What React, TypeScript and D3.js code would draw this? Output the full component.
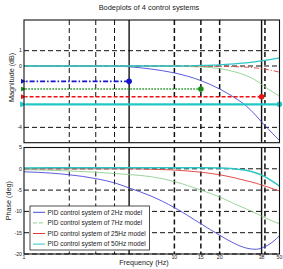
import React from "react";
import * as d3 from "d3";

const freqs = [1, 1.5, 2, 3, 4, 5, 7, 10, 15, 20, 25, 30, 35, 38, 42, 46, 50];

const mag2Hz = [0, 0, 0, 0, -0.01, -0.05, -0.2, -0.45, -0.95, -1.5, -2.05, -2.6, -3.25, -3.65, -4.1, -4.5, -4.85];
const mag7Hz = [0, 0, 0, 0, 0, 0, 0, -0.02, -0.06, -0.17, -0.37, -0.62, -0.95, -1.2, -1.5, -1.75, -1.95];
const mag25Hz = [0, 0, 0, 0, 0, 0, 0, 0, -0.01, -0.02, -0.04, -0.07, -0.13, -0.17, -0.24, -0.32, -0.4];
const mag50Hz = [0, 0, 0, 0, 0, 0, 0, 0, 0.04, 0.08, 0.14, 0.2, 0.28, 0.33, 0.4, 0.47, 0.53];

const ph2Hz = [-0.7, -1.0, -1.4, -2.3, -3.3, -4.5, -6.4, -9.1, -12.9, -15.6, -17.5, -18.6, -18.9, -18.6, -17.9, -16.9, -15.7];
const ph7Hz = [-0.2, -0.35, -0.5, -0.8, -1.1, -1.35, -1.85, -3.0, -5.0, -6.6, -8.2, -9.4, -10.5, -11.1, -11.8, -12.4, -12.9];
const ph25Hz = [0, 0, 0, 0, 0, 0, -0.1, -0.3, -0.8, -1.4, -2.1, -2.8, -3.4, -3.8, -4.3, -4.8, -5.2];
const ph50Hz = [0.2, 0.22, 0.24, 0.25, 0.25, 0.25, 0.25, 0.25, 0.25, 0.2, 0.0, -0.35, -1.0, -1.5, -2.3, -3.2, -4.1];

const markerFreqs = [5, 15, 38, 50];
const markerMags = [-1, -1.5, -2, -2.5];

const seriesNames = [
  "PID control system of 2Hz model",
  "PID control system of 7Hz model",
  "PID control system of 25Hz model",
  "PID control system of 50Hz model",
];

const gridFreqs = [2, 3, 4, 5, 10, 15, 20, 38, 40];
const magTicks = [1, 0, -4];
const phaseTicks = [5, 0, -5, -10, -15, -20];
const freqTickLabels = [1, 10, 15, 20, 38, 50];

const W = 283;
const H = 269;
const FONT = "'Liberation Sans', Arial, Helvetica, sans-serif";

export default function App() {
  const x = d3.scaleLog().domain([1, 50]).range([24, 279.5]);
  const yM = d3.scaleLinear().domain([-5, 3]).range([142.7, 20]);
  const yP = d3.scaleLinear().domain([-20, 5]).range([254, 147.5]);

  const curveColors = ["#4848d8", "#8ed08e", "#e03a3a", "#2cc6c6"];
  const markColors = ["#1515d0", "#189018", "#ee1111", "#22c8c8"];
  const magDash = ["", "", "5,2,1,2", ""];
  const refDash = ["5,2,1.5,2", "1.5,1.5", "4,2", ""];
  const refWidth = [1.6, 1.6, 1.6, 2.4];

  const magSeries = [mag2Hz, mag7Hz, mag25Hz, mag50Hz];
  const phSeries = [ph2Hz, ph7Hz, ph25Hz, ph50Hz];

  const lineM = d3
    .line<number>()
    .x((_, i) => x(freqs[i]))
    .y((d) => yM(d))
    .curve(d3.curveMonotoneX);
  const lineP = d3
    .line<number>()
    .x((_, i) => x(freqs[i]))
    .y((d) => yP(d))
    .curve(d3.curveMonotoneX);

  const vStyle = (f: number) => {
    if (f === 5 || f === 38) return { w: 1.4, dash: "" };
    if (f === 2 || f === 3 || f === 4) return { w: 1, dash: "5,3" };
    return { w: 1.5, dash: "5,3" };
  };

  const panels = [
    { y: yM, top: 20, bottom: 142.7, ticks: magTicks },
    { y: yP, top: 147.5, bottom: 254, ticks: phaseTicks },
  ];

  return (
    <svg
      width={W}
      height={H}
      style={{ position: "absolute", left: 0, top: 0, background: "#fff" }}
      fontFamily={FONT}
    >
      <defs>
        {markColors.map((c, i) => (
          <marker
            key={i}
            id={`arr${i}`}
            viewBox="0 0 10 10"
            refX="1"
            refY="5"
            markerWidth={i === 3 ? 6 : 5}
            markerHeight={i === 3 ? 6 : 5}
            orient="auto"
            markerUnits="userSpaceOnUse"
          >
            <path d="M0,5 L10,0 L10,10 Z" fill={c} />
          </marker>
        ))}
      </defs>
      <rect x={0} y={0} width={W} height={H} fill="#fff" />
      <text x={149} y={10} fontSize={7.4} textAnchor="middle" fill="#222">
        Bodeplots of 4 control systems
      </text>

      {panels.map((p, pi) => (
        <g key={pi}>
          {gridFreqs.map((f) => {
            const s = vStyle(f);
            return (
              <line
                key={f}
                x1={x(f)}
                x2={x(f)}
                y1={p.top}
                y2={p.bottom}
                stroke="#111"
                strokeWidth={s.w}
                strokeDasharray={s.dash}
              />
            );
          })}
          {p.ticks.map((t) => (
            <g key={t}>
              <line
                x1={x(1)}
                x2={x(50)}
                y1={p.y(t)}
                y2={p.y(t)}
                stroke="#111"
                strokeWidth={1}
                strokeDasharray="5,3"
              />
              <text
                x={22}
                y={p.y(t) + 1.8}
                fontSize={5.2}
                textAnchor="end"
                fill="#222"
              >
                {t}
              </text>
            </g>
          ))}
        </g>
      ))}

      {magSeries.map((s, i) => (
        <path
          key={i}
          d={lineM(s) || ""}
          fill="none"
          stroke={curveColors[i]}
          strokeWidth={i === 3 ? 1.3 : 0.9}
          strokeDasharray={magDash[i]}
        />
      ))}

      {markerFreqs.map((f, i) => (
        <g key={i}>
          <line
            x1={x(f)}
            x2={x(1) + 1.5}
            y1={yM(markerMags[i])}
            y2={yM(markerMags[i])}
            stroke={markColors[i]}
            strokeWidth={refWidth[i]}
            strokeDasharray={refDash[i]}
            markerEnd={`url(#arr${i})`}
          />
          <circle cx={x(f)} cy={yM(markerMags[i])} r={2.8} fill={markColors[i]} />
        </g>
      ))}

      {phSeries.map((s, i) => (
        <path
          key={i}
          d={lineP(s) || ""}
          fill="none"
          stroke={curveColors[i]}
          strokeWidth={i === 3 ? 1.5 : 0.9}
        />
      ))}

      {panels.map((p, pi) => (
        <rect
          key={pi}
          x={x(1)}
          y={p.top}
          width={x(50) - x(1)}
          height={p.bottom - p.top}
          fill="none"
          stroke="#111"
          strokeWidth={1.1}
        />
      ))}

      <g>
        <rect x={30} y={206} width={119.5} height={44} fill="#fff" stroke="#222" strokeWidth={0.8} />
        {seriesNames.map((n, i) => {
          const yy = 212.3 + i * 10.6;
          return (
            <g key={i}>
              <line
                x1={33}
                x2={45}
                y1={yy}
                y2={yy}
                stroke={curveColors[i]}
                strokeWidth={1}
                strokeDasharray={i === 1 ? "4,2" : ""}
              />
              <text x={47.5} y={yy + 2.2} fontSize={6.5} fill="#222">
                {n}
              </text>
            </g>
          );
        })}
      </g>

      {freqTickLabels.map((f) => (
        <text key={f} x={x(f)} y={259.3} fontSize={5.2} textAnchor="middle" fill="#222">
          {f}
        </text>
      ))}
      <text x={144} y={265} fontSize={7.2} textAnchor="middle" fill="#222">
        Frequency  (Hz)
      </text>
      <text
        transform={`translate(13.5,${(yM(3) + yM(-5)) / 2 - 4}) rotate(-90)`}
        fontSize={7.2}
        textAnchor="middle"
        fill="#222"
      >
        Magnitude (dB)
      </text>
      <text
        transform={`translate(11,${(yP(5) + yP(-20)) / 2}) rotate(-90)`}
        fontSize={7.2}
        textAnchor="middle"
        fill="#222"
      >
        Phase (deg)
      </text>
    </svg>
  );
}
